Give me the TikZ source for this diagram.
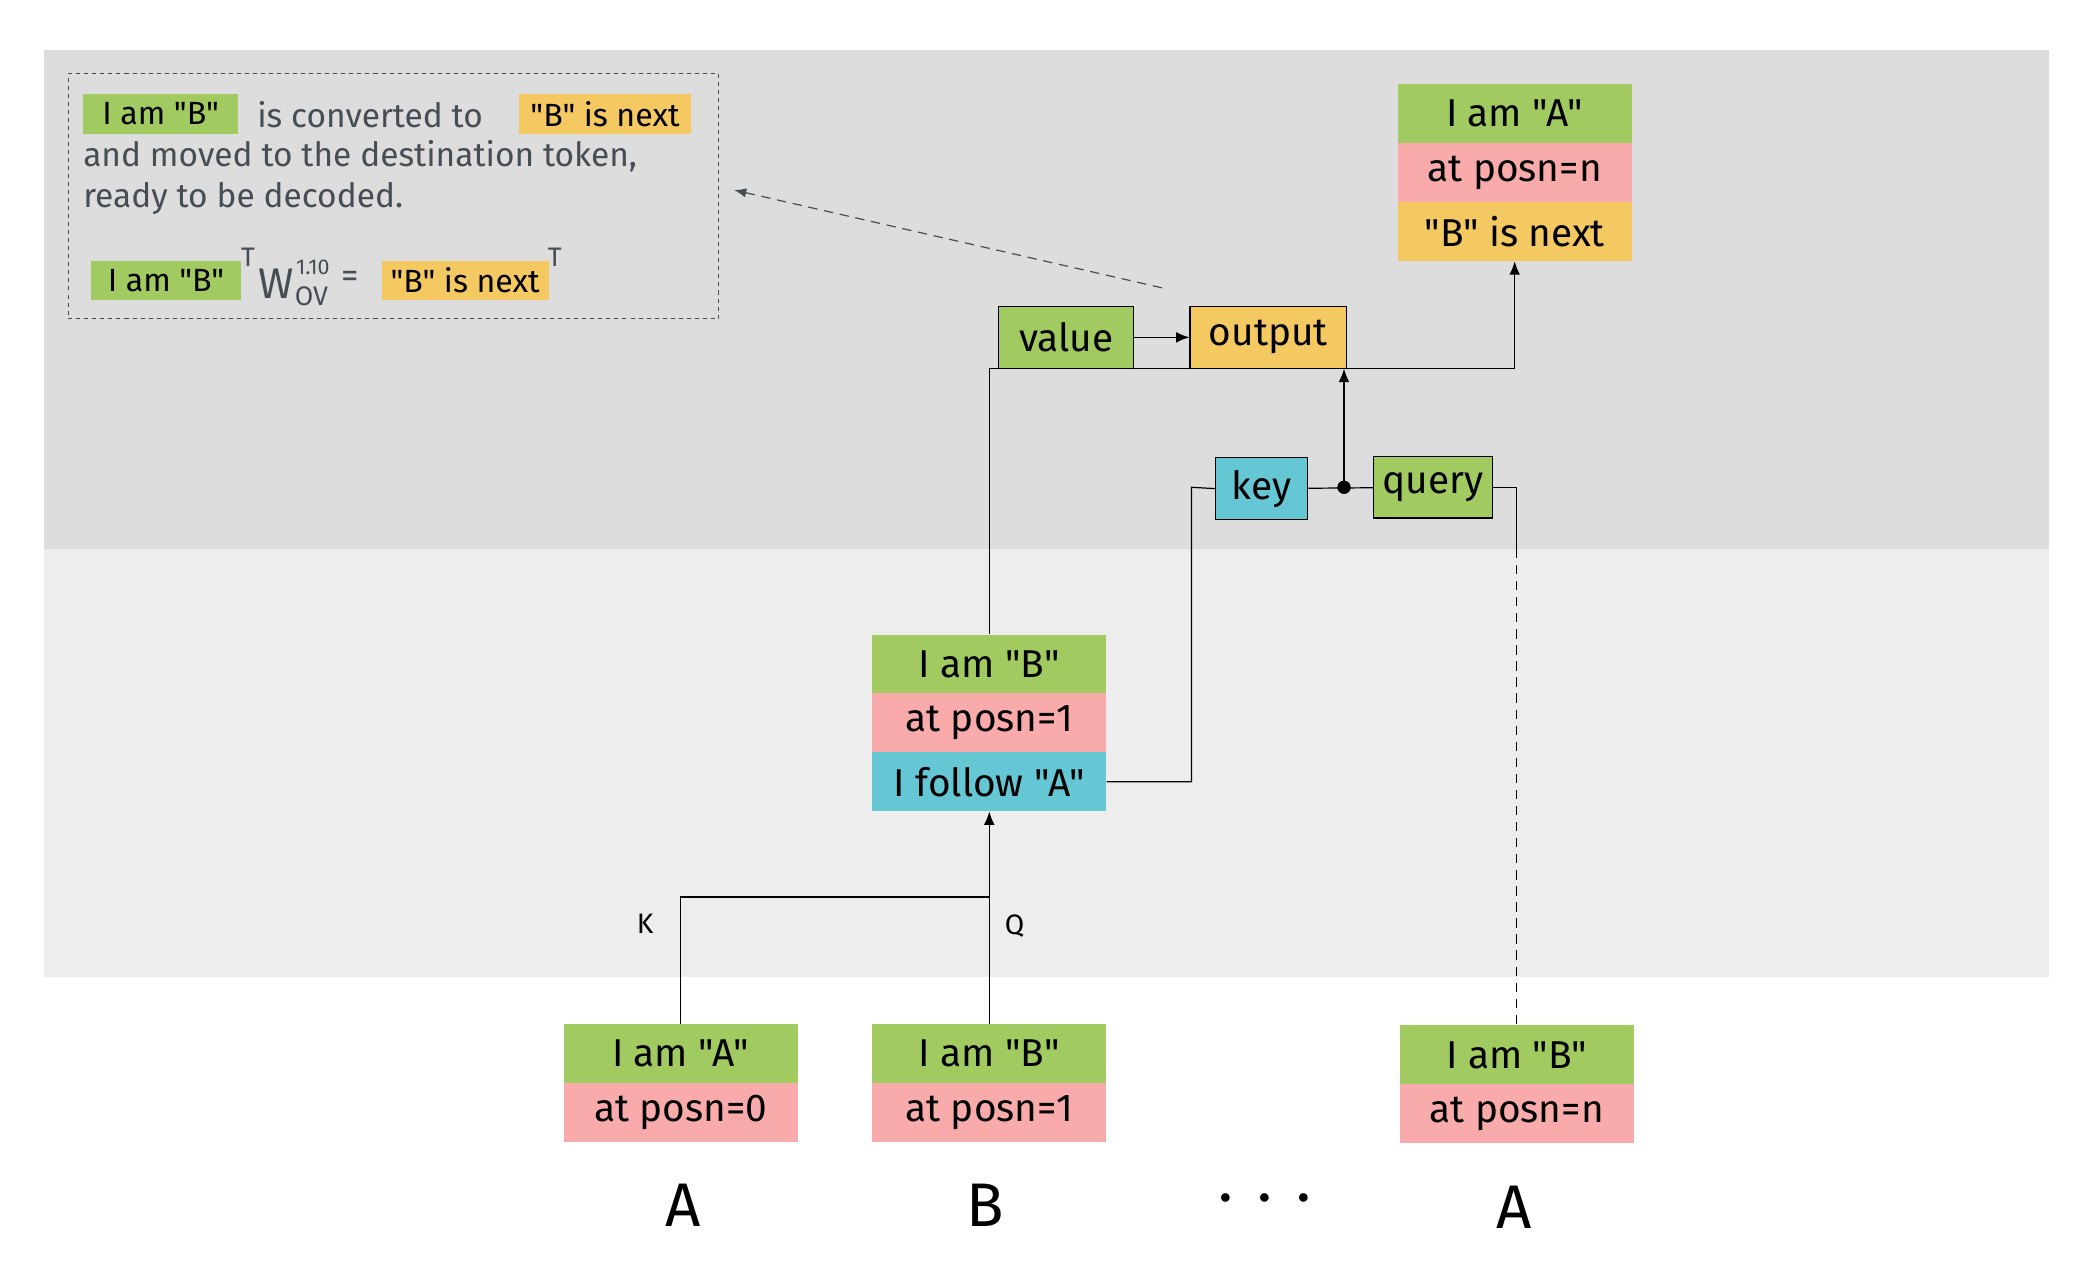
\documentclass[tikz,border=0pt]{standalone}
\usepackage{fontspec}
\setmainfont{Fira Sans}[Ligatures=TeXOff]
\usetikzlibrary{arrows.meta}
\definecolor{bandDark}{HTML}{DDDDDD}
\definecolor{bandLight}{HTML}{EDEDED}
\definecolor{cellGreen}{HTML}{A1CB61}
\definecolor{cellPink}{HTML}{F9AAAA}
\definecolor{cellOrange}{HTML}{F5C962}
\definecolor{cellCyan}{HTML}{66C7D4}
\definecolor{noteInk}{HTML}{474D55}

\begin{document}
\begin{tikzpicture}[x=1pt,y=-1pt,
  cell/.style={minimum width=175pt, minimum height=44pt, inner sep=0pt,
    font=\fontsize{29}{34}\selectfont},
  gcell/.style={cell, fill=cellGreen},
  pcell/.style={cell, fill=cellPink},
  ocell/.style={cell, fill=cellOrange},
  ccell/.style={cell, fill=cellCyan},
  opbox/.style={draw=black, line width=0.9pt, inner sep=0pt, minimum height=46pt,
    font=\fontsize{29}{34}\selectfont},
  wire/.style={draw=black, line width=0.9pt},
  arrow/.style={wire, -{Latex[length=10pt,width=8pt]}},
  notetext/.style={text=noteInk, inner sep=0pt, anchor=west,
    font=\fontsize{25}{30}\selectfont},
  hl/.style={inner sep=0pt, minimum height=30pt, text=black,
    font=\fontsize{24}{28}\selectfont},
  tok/.style={inner sep=0pt, font=\fontsize{46}{52}\selectfont},
  edgelabel/.style={inner sep=0pt, font=\fontsize{21}{25}\selectfont},
]
\useasboundingbox (0,0) rectangle (1568,943.5);
\fill[white] (0,0) rectangle (1568,943.5);

% layer bands
\fill[bandDark] (33,37) rectangle (1531,410);
\fill[bandLight] (33,410) rectangle (1531,730);

% explanatory note
\node[draw=noteInk, dashed, line width=0.9pt, minimum width=486pt, minimum height=183pt,
  inner sep=0pt] (note) at (294,146.5) {};
\node[hl, fill=cellGreen, minimum width=116pt] (n1g) at (120,85) {I am "B"};
\node[notetext] (n1t) at (192,86) {is converted to};
\node[hl, fill=cellOrange, minimum width=128pt] (n1o) at (452,85) {"B" is next};
\node[notetext] (n2) at (62,117) {and moved to the destination token,};
\node[notetext] (n3) at (62,148) {ready to be decoded.};
\node[hl, fill=cellGreen, minimum width=112pt, minimum height=29pt] (n4g) at (124,209.5) {I am "B"};
\node[notetext, font=\fontsize{20}{24}\selectfont] (n4t1) at (180,192) {T};
\node[notetext, font=\fontsize{32}{36}\selectfont] (n4w) at (193,212) {W};
\node[notetext, font=\fontsize{16}{18}\selectfont] (n4sup) at (221,200) {1.10};
\node[notetext, font=\fontsize{20}{22}\selectfont] (n4sub) at (220,221) {OV};
\node[notetext, font=\fontsize{26}{30}\selectfont] (n4eq) at (255,209) {=};
\node[hl, fill=cellOrange, minimum width=125pt, minimum height=29pt] (n4o) at (347.5,209.5) {"B" is next};
\node[notetext, font=\fontsize{20}{24}\selectfont] (n4t2) at (409,192) {T};

% destination token (top right)
\node[gcell] (tr1) at (1131.5,85) {I am "A"};
\node[pcell] (tr2) at (1131.5,129) {at posn=n};
\node[ocell] (tr3) at (1131.5,173) {"B" is next};

% attention head
\node[opbox, fill=cellGreen, minimum width=101pt] (value) at (796.5,252) {value};
\node[opbox, fill=cellOrange, minimum width=117pt] (output) at (947.5,252) {output};
\node[opbox, fill=cellCyan, minimum width=69pt] (key) at (942.5,365) {key};
\node[opbox, fill=cellGreen, minimum width=89pt] (query) at (1070.5,364) {query};
\coordinate (dot) at (1004,364);
\coordinate (outbus) at (tr3.south |- value.south);
\coordinate (kcorner) at (890,364);
\coordinate (qcorner) at (1133,364);
\coordinate (qband) at (1133,410);

% source token after the previous layer
\node[gcell] (mid1) at (739,496) {I am "B"};
\node[pcell] (mid2) at (739,540) {at posn=1};
\node[ccell] (mid3) at (739,584) {I follow "A"};

% input tokens
\node[gcell] (bA1) at (508.5,787) {I am "A"};
\node[pcell] (bA2) at (508.5,831) {at posn=0};
\node[gcell] (bB1) at (739,787) {I am "B"};
\node[pcell] (bB2) at (739,831) {at posn=1};
\node[gcell] (bR1) at (1133,788) {I am "B"};
\node[pcell] (bR2) at (1133,832) {at posn=n};

\node[tok] (tA) at (510,900) {A};
\node[tok] (tB) at (736,900) {B};
\node[tok] (tdots) at (945,895) {.\hspace{18pt}.\hspace{18pt}.};
\node[tok] (tA2) at (1131,902) {A};

% previous-token head
\coordinate (kq) at (bB1.north |- 0,670);
\draw[arrow] (bB1.north) -- (mid3.south);
\draw[wire] (bA1.north) |- (kq);
\node[edgelabel] (klab) at (482,690) {K};
\node[edgelabel] (qlab) at (758,692) {Q};

% induction head wiring
\draw[arrow] (mid1.north) |- (outbus) -- (tr3.south);
\draw[arrow] (value) -- (output);
\draw[arrow] (dot) -- (dot |- output.south);
\draw[wire] (key) -- (query);
\fill (dot) circle (5pt);
\draw[wire] (key.west) -- (kcorner) |- (mid3.east);
\draw[wire] (query.east) -- (qcorner) -- (qband);
\draw[wire, dashed, dash pattern=on 7pt off 5pt] (qband) -- (bR1.north);

% pointer to the note
\coordinate (ntail) at (868,215);
\draw[noteInk, dashed, dash pattern=on 7pt off 5pt, line width=0.9pt,
  -{Latex[length=9pt,width=7pt]}] (ntail) -- ([xshift=11pt,yshift=4.5pt]note.east);
\end{tikzpicture}
\end{document}
